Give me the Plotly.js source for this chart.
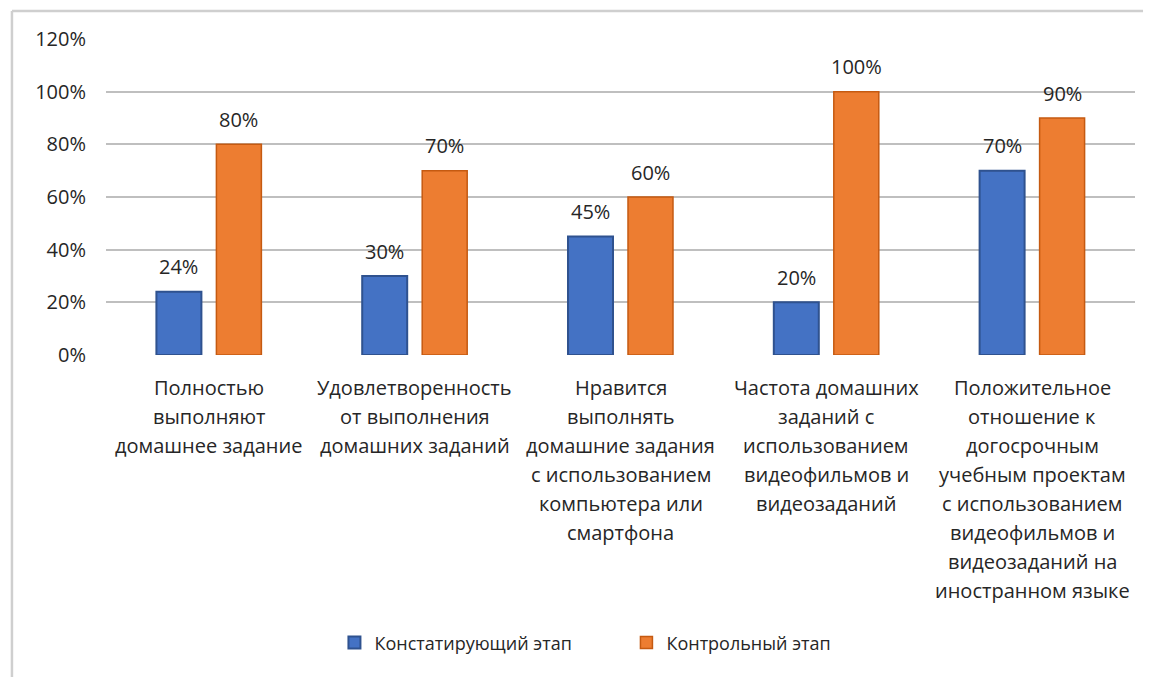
<!DOCTYPE html>
<html>
<head>
<meta charset="utf-8">
<script src="https://cdn.plot.ly/plotly-3.0.1.min.js"></script>
<style>html,body{margin:0;padding:0;background:#fff;}#chart{width:1151px;height:677px;}</style>
</head>
<body>
<div id="chart"></div>
<script>
const categories = [
  "Полностью<br>выполняют<br>домашнее задание",
  "Удовлетворенность<br>от выполнения<br>домашних заданий",
  "Нравится<br>выполнять<br>домашние задания<br>с использованием<br>компьютера или<br>смартфона",
  "Частота домашних<br>заданий с<br>использованием<br>видеофильмов и<br>видеозаданий",
  "Положительное<br>отношение к<br>догосрочным<br>учебным проектам<br>с использованием<br>видеофильмов и<br>видеозаданий на<br>иностранном языке"
];
const seriesNames = ["Констатирующий этап", "Контрольный этап"];
const stage1 = [24, 30, 45, 20, 70];
const stage2 = [80, 70, 60, 100, 90];
const yTicks = [0, 20, 40, 60, 80, 100, 120];

const FONT = "Open Sans, sans-serif";
const TXT = "#262626";
const keys = categories.map((c, i) => "c" + i);

const traces = [
  {type: "bar", name: seriesNames[0], x: keys, y: stage1,
   marker: {color: "#4472c4", line: {color: "#2f528f", width: 2}}, hoverinfo: "none"},
  {type: "bar", name: seriesNames[1], x: keys, y: stage2,
   marker: {color: "#ed7d31", line: {color: "#c55a11", width: 1.5}}, hoverinfo: "none"}
];

const annotations = [];
[stage1, stage2].forEach((arr, s) => {
  arr.forEach((v, i) => {
    annotations.push({x: keys[i], y: v, xref: "x", yref: "y", text: v + "%",
      showarrow: false, xshift: s === 0 ? -30 : 30, yshift: 25, yanchor: "middle",
      font: {family: FONT, size: 20, color: TXT}});
  });
});
categories.forEach((c, i) => {
  c.split("<br>").forEach((line, j) => {
    annotations.push({x: keys[i], y: 0, xref: "x", yref: "paper", text: line,
      showarrow: false, yanchor: "middle", yshift: -32 - 29 * j,
      font: {family: FONT, size: 20, color: TXT}});
  });
});

const layout = {
  width: 1151, height: 677,
  margin: {l: 106, r: 16, t: 39, b: 322},
  paper_bgcolor: "#ffffff", plot_bgcolor: "#ffffff",
  barmode: "group", bargap: 0.417, bargroupgap: 0.25,
  showlegend: true,
  legend: {orientation: "h", x: 0.222, xanchor: "left", y: -0.911, yanchor: "middle",
    font: {family: FONT, size: 18, color: TXT}, itemwidth: 30, entrywidth: 247, entrywidthmode: "pixels"},
  xaxis: {type: "category", showticklabels: false, showgrid: false, zeroline: false,
    showline: false, ticks: "", fixedrange: true},
  yaxis: {range: [0, 120], tickvals: yTicks, ticktext: yTicks.map(v => v + "%"),
    showgrid: true, gridcolor: "#bfbfbf", gridwidth: 2, zeroline: false,
    showline: false, ticks: "", ticklabelstandoff: 19,
    tickfont: {family: FONT, size: 20, color: TXT}, fixedrange: true},
  annotations: annotations,
  shapes: [
    {type: "line", xref: "paper", yref: "paper", x0: -0.0914, x1: -0.0914, y0: -1.05, y1: 1.0886,
     line: {color: "#cfcfcf", width: 2.5}},
    {type: "line", xref: "paper", yref: "paper", x0: -0.0914, x1: 1.0078, y0: 1.0886, y1: 1.0886,
     line: {color: "#cfcfcf", width: 2.5}}
  ]
};

Plotly.newPlot("chart", traces, layout, {displayModeBar: false, staticPlot: true});
</script>
</body>
</html>
